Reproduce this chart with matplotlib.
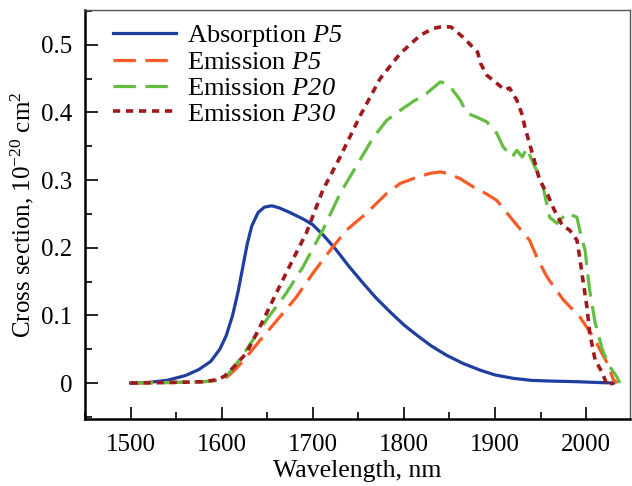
import matplotlib
matplotlib.use("Agg")
import matplotlib.pyplot as plt
from matplotlib.ticker import MultipleLocator, FuncFormatter

plt.rcParams['font.family'] = ['Liberation Serif', 'DejaVu Serif']
plt.rcParams['mathtext.fontset'] = 'custom'
plt.rcParams['mathtext.rm'] = 'Liberation Serif'
plt.rcParams['mathtext.it'] = 'Liberation Serif:italic'
# italic digits for sample names (mathit forces digits upright)
plt.rcParams['mathtext.sf'] = 'Liberation Serif:italic'

# absorption, sample P5
abs_wl = [1500, 1520, 1540, 1560, 1575, 1588, 1598, 1605, 1612, 1618, 1623, 1628, 1633, 1640,
          1647, 1655, 1663, 1675, 1690, 1700, 1712, 1725, 1740, 1755, 1770, 1785, 1800, 1815,
          1830, 1847, 1865, 1884, 1900, 1920, 1940, 1960, 1990, 2030]
abs_p5 = [0, 0.001, 0.004, 0.011, 0.02, 0.032, 0.05, 0.07, 0.1, 0.135, 0.17, 0.205, 0.232, 0.252,
          0.26, 0.262, 0.259, 0.252, 0.242, 0.234, 0.218, 0.198, 0.172, 0.148, 0.125, 0.105,
          0.086, 0.07, 0.055, 0.041, 0.029, 0.019, 0.012, 0.007, 0.004, 0.003, 0.002, 0]

# emission, sample P5
em5_wl = [1500, 1550, 1580, 1595, 1605, 1615, 1627, 1642, 1664, 1682, 1700, 1719, 1737, 1759,
          1781, 1796, 1812, 1829, 1840, 1847, 1862, 1876, 1890, 1902, 1920, 1938, 1946, 1957,
          1975, 1993, 2008, 2023, 2030, 2034]
em5 = [0, 0.001, 0.002, 0.004, 0.008, 0.02, 0.038, 0.063, 0.098, 0.127, 0.162, 0.196, 0.226,
       0.251, 0.28, 0.295, 0.303, 0.31, 0.312, 0.31, 0.302, 0.29, 0.28, 0.27, 0.24, 0.211, 0.186,
       0.157, 0.123, 0.098, 0.068, 0.03, 0.005, 0]

# emission, sample P20
em20_wl = [1500, 1550, 1580, 1595, 1605, 1615, 1627, 1649, 1671, 1689, 1711, 1730, 1752, 1766,
           1781, 1796, 1810, 1825, 1840, 1847, 1852, 1862, 1869, 1880, 1891, 1902, 1909, 1919,
           1924, 1930, 1935, 1942, 1952, 1960, 1968, 1979, 1990, 1993, 1999, 2001, 2004, 2010,
           2018, 2026, 2034, 2037]
em20 = [0, 0.001, 0.002, 0.004, 0.01, 0.026, 0.049, 0.093, 0.133, 0.171, 0.226, 0.28, 0.33,
        0.362, 0.388, 0.403, 0.416, 0.428, 0.445, 0.443, 0.436, 0.418, 0.399, 0.393, 0.386,
        0.369, 0.349, 0.334, 0.344, 0.334, 0.347, 0.325, 0.295, 0.245, 0.236, 0.251, 0.245,
        0.226, 0.196, 0.171, 0.137, 0.089, 0.049, 0.024, 0.009, 0]

# emission, sample P30
em30_wl = [1500, 1550, 1580, 1595, 1603, 1612, 1627, 1642, 1660, 1678, 1693, 1711, 1730, 1752,
           1774, 1796, 1818, 1832, 1843, 1852, 1865, 1876, 1881, 1884, 1891, 1902, 1911, 1916,
           1924, 1930, 1933, 1938, 1944, 1949, 1958, 1965, 1974, 1982, 1990, 1993, 1997, 2001,
           2004, 2010, 2018, 2023, 2030]
em30 = [0, 0.001, 0.002, 0.005, 0.01, 0.022, 0.044, 0.083, 0.133, 0.182, 0.222, 0.285, 0.334,
        0.395, 0.45, 0.487, 0.514, 0.524, 0.527, 0.526, 0.511, 0.496, 0.489, 0.473, 0.455,
        0.443, 0.433, 0.436, 0.418, 0.396, 0.377, 0.354, 0.325, 0.3, 0.278, 0.256, 0.233,
        0.226, 0.211, 0.186, 0.148, 0.112, 0.074, 0.034, 0.015, -0.003, 0]

fig = plt.figure(figsize=(6.32, 4.86), dpi=100)
ax = fig.add_axes([0.1345, 0.138, 0.862, 0.841])

ax.plot(abs_wl, abs_p5, color='#1f3fa0', lw=2.3, label='Absorption $\\mathsf{P5}$')
ax.plot(em5_wl, em5, color='#f85c26', lw=2.3, dashes=(7, 3), label='Emission $\\mathsf{P5}$')
ax.plot(em20_wl, em20, color='#63bd42', lw=2.3, dashes=(7, 3), label='Emission $\\mathsf{P20}$')
ax.plot(em30_wl, em30, color='#a0191c', lw=2.6, dashes=(2.0, 1.6), label='Emission $\\mathsf{P30}$')

ax.set_xlim(1450, 2048)
ax.set_ylim(-0.053, 0.551)
ax.xaxis.set_major_locator(MultipleLocator(100))
ax.xaxis.set_minor_locator(MultipleLocator(50))
ax.yaxis.set_major_locator(MultipleLocator(0.1))
ax.yaxis.set_minor_locator(MultipleLocator(0.05))
ax.yaxis.set_major_formatter(FuncFormatter(lambda v, p: '0' if abs(v) < 1e-9 else '%.1f' % v))
ax.tick_params(which='both', direction='in', labelsize=18, width=1.2)
ax.tick_params(axis='x', which='both', pad=11)
ax.tick_params(axis='y', which='both', pad=9)
ax.tick_params(which='major', length=9)
ax.tick_params(which='minor', length=5)
for sp in ax.spines.values():
    sp.set_linewidth(1.8)
for sp in ('top', 'right'):
    ax.spines[sp].set_linewidth(1.0)
    ax.spines[sp].set_color('#555555')

ax.set_xlabel('Wavelength, nm', fontsize=18.5, labelpad=3)
ax.set_ylabel('Cross section, 10$^{-20}$ cm$^2$', fontsize=18, labelpad=4)

ax.legend(loc='upper left', frameon=False, fontsize=19, handlelength=2.4,
          handletextpad=0.4, labelspacing=0.08, borderaxespad=0.0,
          bbox_to_anchor=(0.032, 0.995))

fig.savefig('out.png', dpi=100)
